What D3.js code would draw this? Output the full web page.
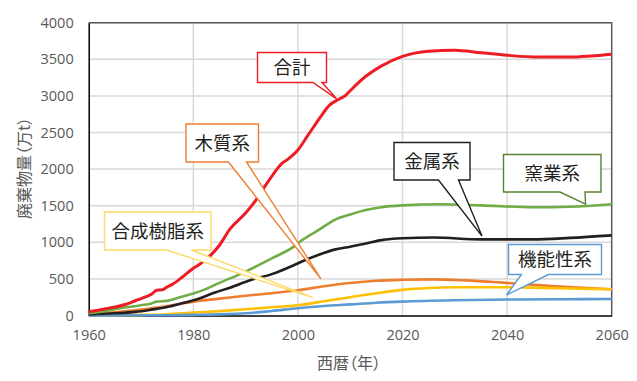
<!DOCTYPE html>
<html>
<head>
<meta charset="utf-8">
<script src="https://cdn.jsdelivr.net/npm/d3@7"></script>
<style>
  body { margin: 0; background: #fff; }
  svg { display: block; }
</style>
</head>
<body>
<div id="chart"></div>
<script>
// ----- data -----
let yearTicks = [1960, 1980, 2000, 2020, 2040, 2060];
let valueTicks = [0, 500, 1000, 1500, 2000, 2500, 3000, 3500, 4000];

let totalYears = [1960, 1963, 1965, 1967, 1969, 1971, 1972, 1973, 1974, 1975, 1976, 1978, 1980, 1981, 1983, 1985, 1987, 1990, 1992, 1993, 1995, 1997, 1998, 2000, 2002, 2004, 2006, 2008, 2009, 2010, 2012, 2016, 2020, 2025, 2030, 2035, 2040, 2046, 2052, 2056, 2060];
let totalValues = [50, 89, 115, 150, 205, 257, 290, 345, 350, 390, 425, 530, 645, 690, 800, 960, 1180, 1400, 1580, 1690, 1900, 2080, 2130, 2260, 2470, 2680, 2870, 2960, 3000, 3070, 3210, 3410, 3540, 3610, 3625, 3590, 3555, 3530, 3530, 3545, 3570];

let ceramicYears = [1960, 1963, 1966, 1970, 1972, 1973, 1975, 1977, 1980, 1982, 1985, 1990, 1995, 1999, 2001, 2004, 2007, 2010, 2013, 2016, 2020, 2027, 2035, 2045, 2052, 2060];
let ceramicValues = [30, 60, 100, 140, 165, 190, 200, 240, 300, 350, 445, 600, 780, 930, 1040, 1170, 1305, 1380, 1440, 1480, 1505, 1520, 1505, 1478, 1485, 1520];

let metalYears = [1960, 1965, 1969, 1972, 1975, 1978, 1981, 1984, 1987, 1991, 1995, 1999, 2001, 2004, 2007, 2010, 2013, 2016, 2020, 2026, 2035, 2045, 2052, 2060];
let metalValues = [15, 30, 50, 80, 115, 170, 230, 310, 380, 485, 565, 680, 745, 830, 900, 940, 985, 1030, 1055, 1065, 1040, 1040, 1060, 1095];

let woodYears = [1960, 1965, 1970, 1975, 1980, 1985, 1990, 1995, 2000, 2005, 2010, 2015, 2020, 2026, 2032, 2040, 2050, 2060];
let woodValues = [20, 45, 80, 130, 190, 230, 270, 305, 345, 400, 445, 475, 488, 494, 480, 445, 395, 358];

let resinYears = [1960, 1970, 1975, 1980, 1985, 1990, 1995, 2000, 2005, 2010, 2015, 2020, 2025, 2030, 2040, 2050, 2060];
let resinValues = [0, 8, 18, 40, 60, 85, 112, 140, 195, 250, 305, 350, 375, 385, 385, 372, 358];

let funcYears = [1960, 1975, 1980, 1985, 1990, 1995, 2000, 2005, 2010, 2015, 2020, 2030, 2040, 2050, 2060];
let funcValues = [0, 3, 8, 15, 30, 62, 100, 130, 152, 175, 190, 208, 218, 223, 225];

let seriesNames = ["木質系", "合成樹脂系", "機能性系", "金属系", "窯業系", "合計"];
let seriesColors = ["#ed7d31", "#ffc000", "#5b9bd5", "#231f20", "#70ad47", "#ee1c25"];

// callout labels: text, colour, tip as [year, value]
let calloutText = ["合計", "木質系", "合成樹脂系", "金属系", "窯業系", "機能性系"];
let calloutColor = ["#ee1c25", "#ed7d31", "#ffd966", "#231f20", "#548235", "#5b9bd5"];
let calloutTip = [[2007.4, 2960], [2004.4, 500], [2002.9, 245], [2035.2, 1085], [2055, 1523], [2039.9, 280]];

// ----- layout -----
let svgWidth = 637;
let svgHeight = 381;
let plot = { left: 88.7, right: 611.7, top: 22.7, bottom: 315.5 };

let svg = d3.select("#chart")
    .append("svg")
    .attr("width", svgWidth)
    .attr("height", svgHeight);

let x = d3.scaleLinear().domain([1960, 2060]).range([plot.left, plot.right]);
let y = d3.scaleLinear().domain([0, 4000]).range([plot.bottom, plot.top]);

let font = "'Open Sans', 'Noto Sans CJK JP', sans-serif";
let cjk = "'Noto Sans CJK JP', sans-serif";

// grid
let grid = svg.append("g");
grid.selectAll("line.h")
    .data(valueTicks.slice(1))
    .enter()
    .append("line")
    .attr("x1", plot.left).attr("x2", plot.right)
    .attr("y1", d => y(d)).attr("y2", d => y(d))
    .attr("stroke", "#d9d9d9").attr("stroke-width", 1.5);
grid.selectAll("line.v")
    .data(yearTicks.slice(1, -1))
    .enter()
    .append("line")
    .attr("x1", d => x(d)).attr("x2", d => x(d))
    .attr("y1", plot.top).attr("y2", plot.bottom)
    .attr("stroke", "#d9d9d9").attr("stroke-width", 1.5);

// frame
svg.append("path")
    .attr("d", `M${plot.left},${plot.top}H${plot.right}V${plot.bottom}`)
    .attr("fill", "none").attr("stroke", "#595959").attr("stroke-width", 1.5);

// axes
let axisX = d3.axisBottom(x).tickValues(yearTicks).tickFormat(d3.format("d")).tickSize(0).tickPadding(14);
let axisY = d3.axisLeft(y).tickValues(valueTicks).tickFormat(d3.format("d")).tickSize(0).tickPadding(15);

let groupX = svg.append("g").attr("transform", `translate(0, ${plot.bottom})`).call(axisX);
let groupY = svg.append("g").attr("transform", `translate(${plot.left}, 0)`).call(axisY);
[groupX, groupY].forEach(g => {
    g.select(".domain").attr("stroke", "#000").attr("stroke-width", 1.5);
    g.selectAll("text").attr("fill", "#595959").style("font-family", font).style("font-size", "14.5px");
});

// titles
svg.append("text")
    .attr("x", 349).attr("y", 369)
    .attr("text-anchor", "middle")
    .attr("fill", "#595959")
    .style("font-family", cjk).style("font-size", "16px")
    .style("font-feature-settings", "'palt'")
    .text("西暦（年）");
svg.append("text")
    .attr("transform", "translate(30, 168) rotate(-90)")
    .attr("text-anchor", "middle")
    .attr("fill", "#595959")
    .style("font-family", cjk).style("font-size", "16px")
    .style("font-feature-settings", "'palt'")
    .text("廃棄物量（万t）");

// series lines
let allYears = [woodYears, resinYears, funcYears, metalYears, ceramicYears, totalYears];
let allValues = [woodValues, resinValues, funcValues, metalValues, ceramicValues, totalValues];

let line = d3.line()
    .x(d => x(d[0]))
    .y(d => y(d[1]))
    .curve(d3.curveMonotoneX);

let lines = svg.append("g");
for (let i = 0; i < seriesNames.length; i++) {
    let pts = allYears[i].map((yr, j) => [yr, allValues[i][j]]);
    lines.append("path")
        .datum(pts)
        .attr("d", line)
        .attr("fill", "none")
        .attr("stroke", seriesColors[i])
        .attr("stroke-width", i == 5 ? 3 : 2.6)
        .attr("stroke-linejoin", "round");
}

// callouts (box position in px, tail base on bottom edge)
let boxes = [
    { x: 257.5, y: 52.5, w: 69, h: 30, t1: 313, t2: 322 },
    { x: 186, y: 124, w: 72.5, h: 38, t1: 228.5, t2: 246.5 },
    { x: 104.5, y: 212, w: 106.5, h: 38, t1: 166.5, t2: 191.5 },
    { x: 394, y: 142.5, w: 76, h: 37.5, t1: 438.5, t2: 458.5 },
    { x: 503.5, y: 154.5, w: 97.5, h: 37.5, t1: 560, t2: 585 },
    { x: 508.5, y: 244.5, w: 93, h: 30, t1: 521.5, t2: 548.5 }
];

let notes = svg.append("g");
for (let i = 0; i < calloutText.length; i++) {
    let b = boxes[i];
    let tx = x(calloutTip[i][0]);
    let ty = y(calloutTip[i][1]);
    let bottom = b.y + b.h;
    let d = `M${b.x},${b.y}H${b.x + b.w}V${bottom}H${b.t2}L${tx},${ty}L${b.t1},${bottom}H${b.x}Z`;
    notes.append("path")
        .attr("d", d)
        .attr("fill", "#fff")
        .attr("stroke", calloutColor[i])
        .attr("stroke-width", 1.4)
        .attr("stroke-linejoin", "miter");
    notes.append("text")
        .attr("x", b.x + b.w / 2)
        .attr("y", b.y + b.h / 2)
        .attr("dy", "0.36em")
        .attr("text-anchor", "middle")
        .attr("fill", "#231f20")
        .style("font-family", cjk)
        .style("font-size", "18.5px")
        .text(calloutText[i]);
}
</script>
</body>
</html>
